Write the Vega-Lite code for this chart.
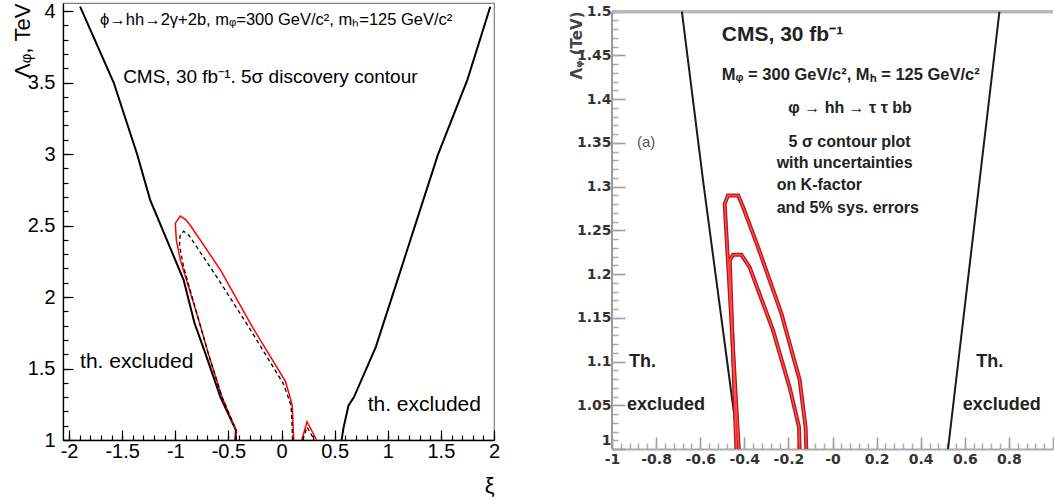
{
  "$schema": "https://vega.github.io/schema/vega-lite/v6.json",
  "background": "white",
  "padding": {"left": 10, "top": 0, "right": 0, "bottom": 0},
  "bounds": "flush",
  "spacing": 118,
  "config": {"font": "Liberation Sans", "axis": {"grid": false, "labelFlush": false, "labelOverlap": false, "ticks": true, "tickOpacity": 1}},
  "datasets": {
    "lb": [
      {"s": "L", "i": 0, "x": -1.896, "y": 4.03},
      {"s": "L", "i": 1, "x": -1.58, "y": 3.5},
      {"s": "L", "i": 2, "x": -1.36, "y": 3.0},
      {"s": "L", "i": 3, "x": -1.236, "y": 2.678},
      {"s": "L", "i": 4, "x": -0.922, "y": 2.12},
      {"s": "L", "i": 5, "x": -0.82, "y": 1.82},
      {"s": "L", "i": 6, "x": -0.717, "y": 1.606},
      {"s": "L", "i": 7, "x": -0.575, "y": 1.3},
      {"s": "L", "i": 8, "x": -0.43, "y": 1.07},
      {"s": "L", "i": 9, "x": -0.435, "y": 1.0},
      {"s": "R", "i": 0, "x": 0.565, "y": 1.0},
      {"s": "R", "i": 1, "x": 0.585, "y": 1.09},
      {"s": "R", "i": 2, "x": 0.63, "y": 1.24},
      {"s": "R", "i": 3, "x": 0.682, "y": 1.3},
      {"s": "R", "i": 4, "x": 0.887, "y": 1.65},
      {"s": "R", "i": 5, "x": 1.092, "y": 2.12},
      {"s": "R", "i": 6, "x": 1.47, "y": 2.99},
      {"s": "R", "i": 7, "x": 1.75, "y": 3.52},
      {"s": "R", "i": 8, "x": 1.965, "y": 4.03}
    ],
    "lr": [
      {"s": "main", "i": 0, "x": -0.425, "y": 1.0},
      {"s": "main", "i": 1, "x": -0.43, "y": 1.07},
      {"s": "main", "i": 2, "x": -0.56, "y": 1.3},
      {"s": "main", "i": 3, "x": -0.69, "y": 1.606},
      {"s": "main", "i": 4, "x": -0.78, "y": 1.84},
      {"s": "main", "i": 5, "x": -0.953, "y": 2.26},
      {"s": "main", "i": 6, "x": -0.99, "y": 2.4},
      {"s": "main", "i": 7, "x": -1.0, "y": 2.515},
      {"s": "main", "i": 8, "x": -0.953, "y": 2.566},
      {"s": "main", "i": 9, "x": -0.9, "y": 2.54},
      {"s": "main", "i": 10, "x": -0.858, "y": 2.5},
      {"s": "main", "i": 11, "x": -0.575, "y": 2.19},
      {"s": "main", "i": 12, "x": -0.29, "y": 1.81},
      {"s": "main", "i": 13, "x": 0.038, "y": 1.408},
      {"s": "main", "i": 14, "x": 0.1, "y": 1.245},
      {"s": "main", "i": 15, "x": 0.115, "y": 1.0},
      {"s": "bump", "i": 0, "x": 0.19, "y": 1.0},
      {"s": "bump", "i": 1, "x": 0.24, "y": 1.128},
      {"s": "bump", "i": 2, "x": 0.33, "y": 1.0}
    ],
    "ld": [
      {"s": "main", "i": 0, "x": -0.425, "y": 1.0},
      {"s": "main", "i": 1, "x": -0.43, "y": 1.07},
      {"s": "main", "i": 2, "x": -0.56, "y": 1.3},
      {"s": "main", "i": 3, "x": -0.69, "y": 1.606},
      {"s": "main", "i": 4, "x": -0.78, "y": 1.84},
      {"s": "main", "i": 5, "x": -0.922, "y": 2.21},
      {"s": "main", "i": 6, "x": -0.96, "y": 2.36},
      {"s": "main", "i": 7, "x": -0.955, "y": 2.43},
      {"s": "main", "i": 8, "x": -0.922, "y": 2.46},
      {"s": "main", "i": 9, "x": -0.87, "y": 2.43},
      {"s": "main", "i": 10, "x": -0.6, "y": 2.13},
      {"s": "main", "i": 11, "x": -0.3, "y": 1.78},
      {"s": "main", "i": 12, "x": 0.02, "y": 1.39},
      {"s": "main", "i": 13, "x": 0.09, "y": 1.24},
      {"s": "main", "i": 14, "x": 0.105, "y": 1.0},
      {"s": "bump", "i": 0, "x": 0.2, "y": 1.0},
      {"s": "bump", "i": 1, "x": 0.24, "y": 1.09},
      {"s": "bump", "i": 2, "x": 0.31, "y": 1.0}
    ],
    "lt1": [{"x": -1.708, "y": 3.937, "t": "ϕ→hh→2γ+2b, mᵩ=300 GeV/c², mₕ=125 GeV/c²"}],
    "lt2": [{"x": -1.491, "y": 3.538, "t": "CMS, 30 fb⁻¹. 5σ discovery contour"}],
    "lt3": [{"x": -1.896, "y": 1.5475, "t": "th. excluded"}, {"x": 0.811, "y": 1.245, "t": "th. excluded"}],
    "rtop": [{"x": -1, "x2": 1, "y": 1.5, "y2": 1.5}],
    "rleft": [{"x": -1, "x2": -1, "y": 1.0, "y2": 1.5}],
    "rb": [
      {"s": "L", "i": 0, "x": -0.683, "y": 1.5},
      {"s": "L", "i": 1, "x": -0.587, "y": 1.307},
      {"s": "L", "i": 2, "x": -0.425, "y": 1.0},
      {"s": "R", "i": 0, "x": 0.524, "y": 1.0},
      {"s": "R", "i": 1, "x": 0.757, "y": 1.5}
    ],
    "rr": [
      {"s": "outer", "i": 0, "x": -0.425, "y": 1.0},
      {"s": "outer", "i": 1, "x": -0.489, "y": 1.28},
      {"s": "outer", "i": 2, "x": -0.474, "y": 1.29},
      {"s": "outer", "i": 3, "x": -0.428, "y": 1.29},
      {"s": "outer", "i": 4, "x": -0.406, "y": 1.277},
      {"s": "outer", "i": 5, "x": -0.338, "y": 1.231},
      {"s": "outer", "i": 6, "x": -0.232, "y": 1.155},
      {"s": "outer", "i": 7, "x": -0.149, "y": 1.079},
      {"s": "outer", "i": 8, "x": -0.122, "y": 1.025},
      {"s": "outer", "i": 9, "x": -0.119, "y": 1.0},
      {"s": "inner", "i": 0, "x": -0.436, "y": 1.0},
      {"s": "inner", "i": 1, "x": -0.466, "y": 1.216},
      {"s": "inner", "i": 2, "x": -0.451, "y": 1.222},
      {"s": "inner", "i": 3, "x": -0.413, "y": 1.222},
      {"s": "inner", "i": 4, "x": -0.376, "y": 1.208},
      {"s": "inner", "i": 5, "x": -0.27, "y": 1.136},
      {"s": "inner", "i": 6, "x": -0.195, "y": 1.071},
      {"s": "inner", "i": 7, "x": -0.152, "y": 1.025},
      {"s": "inner", "i": 8, "x": -0.149, "y": 1.0}
    ],
    "rt1": [{"x": -0.502, "y": 1.4734, "t": "CMS, 30 fb⁻¹"}],
    "rt2": [{"x": -0.502, "y": 1.4277, "t": "Mᵩ = 300 GeV/c², Mₕ = 125 GeV/c²"}],
    "rt3": [
      {"x": -0.2005, "y": 1.39, "t": "φ → hh → τ τ bb"},
      {"x": -0.199, "y": 1.3514, "t": "5 σ contour plot"},
      {"x": -0.2534, "y": 1.3267, "t": "with uncertainties"},
      {"x": -0.2534, "y": 1.3019, "t": "on K-factor"},
      {"x": -0.2534, "y": 1.2752, "t": "and 5% sys. errors"}
    ],
    "rt4": [{"x": -0.887, "y": 1.3514, "t": "(a)"}],
    "rt5": [
      {"x": -0.923, "y": 1.0998, "t": "Th."},
      {"x": -0.932, "y": 1.0503, "t": "excluded"},
      {"x": 0.6516, "y": 1.0998, "t": "Th."},
      {"x": 0.591, "y": 1.0503, "t": "excluded"}
    ]
  },
  "hconcat": [
    {
      "width": 431,
      "height": 437,
      "view": {"stroke": "#808080", "strokeWidth": 1.2},
      "resolve": {"axis": {"x": "independent", "y": "independent"}},
      "layer": [
        {
          "data": {"name": "lb"},
          "mark": {"type": "line", "color": "black", "strokeWidth": 2},
          "encoding": {
            "x": {"field": "x", "type": "quantitative", "scale": {"domain": [-2.057, 2], "nice": false, "zero": false},
              "axis": {"orient": "bottom", "values": [-2, -1.5, -1, -0.5, 0, 0.5, 1, 1.5, 2], "ticks": true, "tickSize": -10, "tickColor": "#000000", "tickWidth": 1.2, "domainColor": "#000000", "domainWidth": 1.3,
                "labelFont": "Liberation Sans", "labelFontSize": 20, "labelColor": "#000000", "labelPadding": 11,
                "labelExpr": "replace(format(datum.value, '~g'), '\u2212', '-')",
                "title": "ξ", "titleFont": "Liberation Sans", "titleFontSize": 22, "titleFontWeight": "normal", "titleColor": "#000000", "titleAnchor": "end", "titlePadding": 14}},
            "y": {"field": "y", "type": "quantitative", "scale": {"domain": [1, 4.056], "nice": false, "zero": false},
              "axis": {"orient": "left", "values": [1, 1.5, 2, 2.5, 3, 3.5, 4], "ticks": true, "tickSize": -10, "tickColor": "#000000", "tickWidth": 1.2, "domainColor": "#000000", "domainWidth": 1.3,
                "labelFont": "Liberation Sans", "labelFontSize": 20, "labelColor": "#000000", "labelPadding": 18,
                "labelExpr": "format(datum.value, '~g')",
                "title": "Λᵩ, TeV", "titleFont": "Liberation Sans", "titleFontSize": 22, "titleFontWeight": "normal", "titleColor": "#000000", "titleAnchor": "end", "titleX": -29, "titleY": 0}},
            "detail": {"field": "s"},
            "order": {"field": "i", "type": "quantitative"}
          }
        },
        {
          "data": {"name": "lr"},
          "mark": {"type": "line", "color": "#ff0000", "strokeWidth": 1.5},
          "encoding": {
            "x": {"field": "x", "type": "quantitative", "scale": {"domain": [-2.057, 2], "nice": false, "zero": false},
              "axis": {"orient": "bottom", "values": [-2, -1.9, -1.8, -1.7, -1.6, -1.5, -1.4, -1.3, -1.2, -1.1, -1, -0.9, -0.8, -0.7, -0.6, -0.5, -0.4, -0.3, -0.2, -0.1, 0, 0.1, 0.2, 0.3, 0.4, 0.5, 0.6, 0.7, 0.8, 0.9, 1, 1.1, 1.2, 1.3, 1.4, 1.5, 1.6, 1.7, 1.8, 1.9, 2],
                "ticks": true, "tickSize": -5, "tickColor": "#000000", "tickWidth": 1.2, "labels": false, "domain": false, "title": null}},
            "y": {"field": "y", "type": "quantitative", "scale": {"domain": [1, 4.056], "nice": false, "zero": false},
              "axis": {"orient": "left", "values": [1, 1.1, 1.2, 1.3, 1.4, 1.5, 1.6, 1.7, 1.8, 1.9, 2, 2.1, 2.2, 2.3, 2.4, 2.5, 2.6, 2.7, 2.8, 2.9, 3, 3.1, 3.2, 3.3, 3.4, 3.5, 3.6, 3.7, 3.8, 3.9, 4],
                "ticks": true, "tickSize": -5, "tickColor": "#000000", "tickWidth": 1.2, "labels": false, "domain": false, "title": null}},
            "detail": {"field": "s"},
            "order": {"field": "i", "type": "quantitative"}
          }
        },
        {
          "data": {"name": "ld"},
          "mark": {"type": "line", "color": "black", "strokeWidth": 1.3, "strokeDash": [4, 3]},
          "encoding": {
            "x": {"field": "x", "type": "quantitative", "scale": {"domain": [-2.057, 2], "nice": false, "zero": false}, "axis": null},
            "y": {"field": "y", "type": "quantitative", "scale": {"domain": [1, 4.056], "nice": false, "zero": false}, "axis": null},
            "detail": {"field": "s"},
            "order": {"field": "i", "type": "quantitative"}
          }
        },
        {
          "data": {"name": "lt1"},
          "mark": {"type": "text", "font": "Liberation Sans", "fontSize": 16.5, "align": "left", "baseline": "middle", "color": "black"},
          "encoding": {
            "x": {"field": "x", "type": "quantitative", "scale": {"domain": [-2.057, 2], "nice": false, "zero": false}, "axis": null},
            "y": {"field": "y", "type": "quantitative", "scale": {"domain": [1, 4.056], "nice": false, "zero": false}, "axis": null},
            "text": {"field": "t"}
          }
        },
        {
          "data": {"name": "lt2"},
          "mark": {"type": "text", "font": "Liberation Sans", "fontSize": 19, "align": "left", "baseline": "middle", "color": "black"},
          "encoding": {
            "x": {"field": "x", "type": "quantitative", "scale": {"domain": [-2.057, 2], "nice": false, "zero": false}, "axis": null},
            "y": {"field": "y", "type": "quantitative", "scale": {"domain": [1, 4.056], "nice": false, "zero": false}, "axis": null},
            "text": {"field": "t"}
          }
        },
        {
          "data": {"name": "lt3"},
          "mark": {"type": "text", "font": "Liberation Sans", "fontSize": 21, "align": "left", "baseline": "middle", "color": "black"},
          "encoding": {
            "x": {"field": "x", "type": "quantitative", "scale": {"domain": [-2.057, 2], "nice": false, "zero": false}, "axis": null},
            "y": {"field": "y", "type": "quantitative", "scale": {"domain": [1, 4.056], "nice": false, "zero": false}, "axis": null},
            "text": {"field": "t"}
          }
        }
      ]
    },
    {
      "width": 441,
      "height": 446,
      "view": {"stroke": null},
      "resolve": {"axis": {"x": "independent", "y": "independent"}},
      "layer": [
        {
          "data": {"name": "rtop"},
          "mark": {"type": "rule", "color": "#b8b8b8", "strokeWidth": 3.5},
          "encoding": {
            "x": {"field": "x", "type": "quantitative", "scale": {"domain": [-1, 1], "nice": false, "zero": false}, "axis": null},
            "x2": {"field": "x2"},
            "y": {"field": "y", "type": "quantitative", "scale": {"domain": [1, 1.51], "nice": false, "zero": false}, "axis": null},
            "y2": {"field": "y2"}
          }
        },
        {
          "data": {"name": "rleft"},
          "mark": {"type": "rule", "color": "#9a9a9a", "strokeWidth": 2},
          "encoding": {
            "x": {"field": "x", "type": "quantitative", "scale": {"domain": [-1, 1], "nice": false, "zero": false}, "axis": null},
            "x2": {"field": "x2"},
            "y": {"field": "y", "type": "quantitative", "scale": {"domain": [1, 1.51], "nice": false, "zero": false}, "axis": null},
            "y2": {"field": "y2"}
          }
        },
        {
          "data": {"name": "rb"},
          "mark": {"type": "line", "color": "#1a1a1a", "strokeWidth": 2},
          "encoding": {
            "x": {"field": "x", "type": "quantitative", "scale": {"domain": [-1, 1], "nice": false, "zero": false},
              "axis": {"orient": "bottom", "values": [-1, -0.8, -0.6, -0.4, -0.2, 0, 0.2, 0.4, 0.6, 0.8, 1], "tickSize": -12, "tickColor": "#999999", "tickWidth": 1.5, "domainColor": "#aaaaaa", "domainWidth": 2,
                "labelFont": "DejaVu Sans", "labelFontSize": 14, "labelFontWeight": "bold", "labelColor": "#333333", "labelPadding": 15,
                "labelExpr": "datum.value > 0.99 ? '' : (abs(datum.value) < 1e-6 ? '-0' : replace(format(datum.value, '~g'), '\u2212', '-'))",
                "title": null}},
            "y": {"field": "y", "type": "quantitative", "scale": {"domain": [1, 1.51], "nice": false, "zero": false},
              "axis": {"orient": "left", "values": [1, 1.05, 1.1, 1.15, 1.2, 1.25, 1.3, 1.35, 1.4, 1.45, 1.5], "tickSize": -13, "tickColor": "#999999", "tickWidth": 1.5, "domain": false,
                "labelFont": "DejaVu Sans", "labelFontSize": 14, "labelFontWeight": "bold", "labelColor": "#333333", "labelPadding": 14,
                "labelOffset": {"condition": {"test": "datum.value == 1", "value": -9}, "value": 0},
                "labelExpr": "format(datum.value, '~g')",
                "title": "Λᵩ (TeV)", "titleFont": "DejaVu Sans", "titleFontSize": 15, "titleFontWeight": "bold", "titleColor": "#444444", "titleAnchor": "end", "titleX": -28, "titleY": 8}},
            "detail": {"field": "s"},
            "order": {"field": "i", "type": "quantitative"}
          }
        },
        {
          "data": {"name": "rr"},
          "mark": {"type": "line", "color": "#b3161b", "strokeWidth": 4},
          "encoding": {
            "x": {"field": "x", "type": "quantitative", "scale": {"domain": [-1, 1], "nice": false, "zero": false},
              "axis": {"orient": "bottom", "values": [-1, -0.96, -0.92, -0.88, -0.84, -0.8, -0.76, -0.72, -0.68, -0.64, -0.6, -0.56, -0.52, -0.48, -0.44, -0.4, -0.36, -0.32, -0.28, -0.24, -0.2, -0.16, -0.12, -0.08, -0.04, 0, 0.04, 0.08, 0.12, 0.16, 0.2, 0.24, 0.28, 0.32, 0.36, 0.4, 0.44, 0.48, 0.52, 0.56, 0.6, 0.64, 0.68, 0.72, 0.76, 0.8, 0.84, 0.88, 0.92, 0.96, 1],
                "tickSize": -6, "tickColor": "#aaaaaa", "tickWidth": 1.5, "labels": false, "domain": false, "title": null}},
            "y": {"field": "y", "type": "quantitative", "scale": {"domain": [1, 1.51], "nice": false, "zero": false},
              "axis": {"orient": "left", "values": [1, 1.01, 1.02, 1.03, 1.04, 1.05, 1.06, 1.07, 1.08, 1.09, 1.1, 1.11, 1.12, 1.13, 1.14, 1.15, 1.16, 1.17, 1.18, 1.19, 1.2, 1.21, 1.22, 1.23, 1.24, 1.25, 1.26, 1.27, 1.28, 1.29, 1.3, 1.31, 1.32, 1.33, 1.34, 1.35, 1.36, 1.37, 1.38, 1.39, 1.4, 1.41, 1.42, 1.43, 1.44, 1.45, 1.46, 1.47, 1.48, 1.49, 1.5],
                "tickSize": -6, "tickColor": "#aaaaaa", "tickWidth": 1.5, "labels": false, "domain": false, "title": null}},
            "detail": {"field": "s"},
            "order": {"field": "i", "type": "quantitative"}
          }
        },
        {
          "data": {"name": "rr"},
          "mark": {"type": "line", "color": "#ff4d4d", "strokeWidth": 1.5},
          "encoding": {
            "x": {"field": "x", "type": "quantitative", "scale": {"domain": [-1, 1], "nice": false, "zero": false}, "axis": null},
            "y": {"field": "y", "type": "quantitative", "scale": {"domain": [1, 1.51], "nice": false, "zero": false}, "axis": null},
            "detail": {"field": "s"},
            "order": {"field": "i", "type": "quantitative"}
          }
        },
        {
          "data": {"name": "rt1"},
          "mark": {"type": "text", "font": "Liberation Sans", "fontSize": 21, "fontWeight": "bold", "align": "left", "baseline": "middle", "color": "#222222"},
          "encoding": {
            "x": {"field": "x", "type": "quantitative", "scale": {"domain": [-1, 1], "nice": false, "zero": false}, "axis": null},
            "y": {"field": "y", "type": "quantitative", "scale": {"domain": [1, 1.51], "nice": false, "zero": false}, "axis": null},
            "text": {"field": "t"}
          }
        },
        {
          "data": {"name": "rt2"},
          "mark": {"type": "text", "font": "Liberation Sans", "fontSize": 16.5, "fontWeight": "bold", "align": "left", "baseline": "middle", "color": "#222222"},
          "encoding": {
            "x": {"field": "x", "type": "quantitative", "scale": {"domain": [-1, 1], "nice": false, "zero": false}, "axis": null},
            "y": {"field": "y", "type": "quantitative", "scale": {"domain": [1, 1.51], "nice": false, "zero": false}, "axis": null},
            "text": {"field": "t"}
          }
        },
        {
          "data": {"name": "rt3"},
          "mark": {"type": "text", "font": "Liberation Sans", "fontSize": 16, "fontWeight": "bold", "align": "left", "baseline": "middle", "color": "#222222"},
          "encoding": {
            "x": {"field": "x", "type": "quantitative", "scale": {"domain": [-1, 1], "nice": false, "zero": false}, "axis": null},
            "y": {"field": "y", "type": "quantitative", "scale": {"domain": [1, 1.51], "nice": false, "zero": false}, "axis": null},
            "text": {"field": "t"}
          }
        },
        {
          "data": {"name": "rt4"},
          "mark": {"type": "text", "font": "Liberation Sans", "fontSize": 15, "align": "left", "baseline": "middle", "color": "#555555"},
          "encoding": {
            "x": {"field": "x", "type": "quantitative", "scale": {"domain": [-1, 1], "nice": false, "zero": false}, "axis": null},
            "y": {"field": "y", "type": "quantitative", "scale": {"domain": [1, 1.51], "nice": false, "zero": false}, "axis": null},
            "text": {"field": "t"}
          }
        },
        {
          "data": {"name": "rt5"},
          "mark": {"type": "text", "font": "Liberation Sans", "fontSize": 18, "fontWeight": "bold", "align": "left", "baseline": "middle", "color": "#222222"},
          "encoding": {
            "x": {"field": "x", "type": "quantitative", "scale": {"domain": [-1, 1], "nice": false, "zero": false}, "axis": null},
            "y": {"field": "y", "type": "quantitative", "scale": {"domain": [1, 1.51], "nice": false, "zero": false}, "axis": null},
            "text": {"field": "t"}
          }
        }
      ]
    }
  ]
}
